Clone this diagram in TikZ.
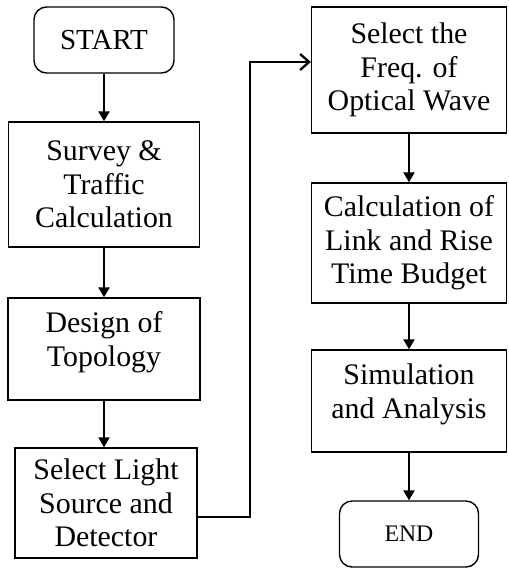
\documentclass[tikz,border=0pt]{standalone}
\usepackage{fontspec}
\setmainfont{Liberation Serif}
\usetikzlibrary{arrows.meta}

\begin{document}
\begin{tikzpicture}[x=0.02cm,y=-0.02cm,
        stepbox/.style={draw,line width=0.8pt,align=center,inner sep=0pt,
            font=\fontsize{17}{19}\selectfont},
        termbox/.style={draw,line width=0.8pt,rounded corners=0.25cm,align=center,
            inner sep=0pt,minimum height=1.32cm},
        flow/.style={line width=1.3pt,-{Triangle[length=0.2cm,width=0.22cm]}}]
        \useasboundingbox (0,0) rectangle (508,568);
        % left column
        \node[termbox,minimum width=2.8cm,font=\fontsize{16.5}{19}\selectfont] (start) at (104,40) {START};
        \node[stepbox,minimum width=3.82cm,minimum height=2.5cm] (survey) at (104,184.5) {Survey \&\\Traffic\\Calculation};
        \node[stepbox,minimum width=3.84cm,minimum height=2.04cm,text depth=0.4cm] (design) at (104,349) {Design of\\Topology};
        \node[stepbox,minimum width=3.64cm,minimum height=2.2cm] (light) at (106,503) {Select Light\\Source and\\Detector};
        % right column
        \node[stepbox,minimum width=3.9cm,minimum height=2.52cm] (freq) at (409,70) {Select the\\Freq. of\\Optical Wave};
        \node[stepbox,minimum width=3.9cm,minimum height=2.4cm] (calc) at (409,243) {Calculation of\\Link and Rise\\Time Budget};
        \node[stepbox,minimum width=3.9cm,minimum height=2.04cm,text depth=0.4cm] (sim) at (409,401) {Simulation\\and Analysis};
        \node[termbox,minimum width=2.78cm,font=\fontsize{13.5}{16}\selectfont] (end) at (409,534) {END};
        % arrows
        \draw[flow] (start) -- (survey);
        \draw[flow] (survey) -- (design);
        \draw[flow] (design.south) -- (design.south |- light.north);
        \draw[flow] (freq) -- (calc);
        \draw[flow] (calc) -- (sim);
        \draw[flow] (sim) -- (end);
        % link between the columns
        \coordinate (turn) at (250,62);
        \draw[line width=1.3pt,-{Straight Barb[length=0.18cm,width=0.32cm]}]
            ([yshift=-0.28cm]light.east) -| (turn) -- (turn -| freq.west);
\end{tikzpicture}
\end{document}
